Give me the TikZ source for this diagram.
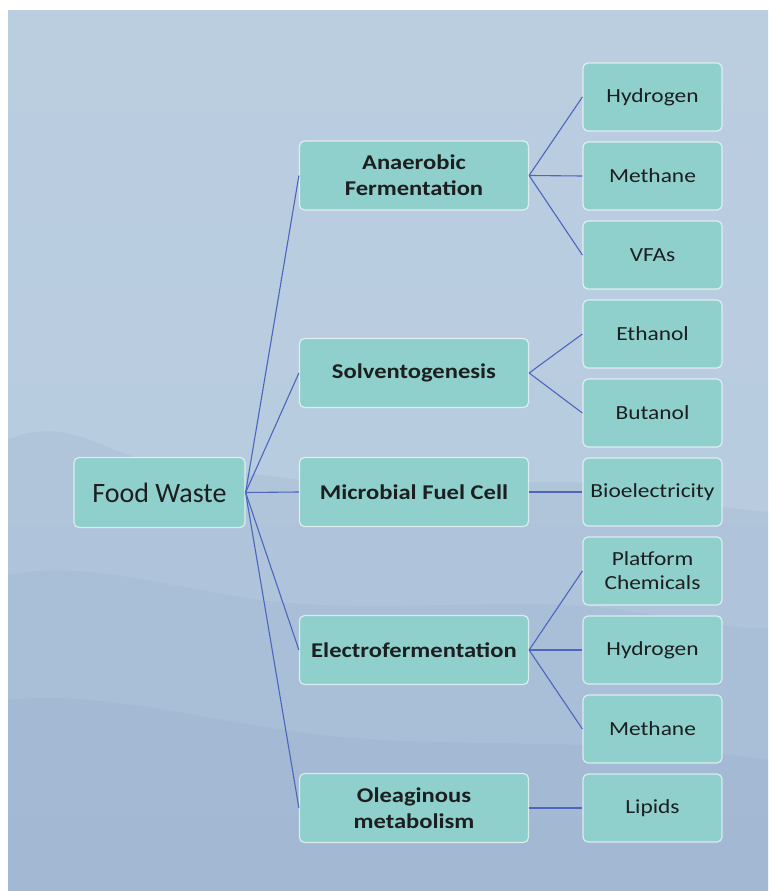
\documentclass[tikz,border=0pt]{standalone}
\usepackage{fontspec}
\setmainfont{Carlito}
\newfontfamily\widefont[FakeStretch=1.17]{Carlito}
\definecolor{boxfill}{RGB}{143,208,204}
\definecolor{linkblue}{RGB}{76,102,190}
\definecolor{textdark}{RGB}{28,30,32}
\definecolor{skyA}{RGB}{138,162,197}
\definecolor{skyB}{RGB}{158,181,210}
\definecolor{skyC}{RGB}{178,199,221}
\definecolor{skyD}{RGB}{196,213,228}
\definecolor{skyE}{RGB}{179,204,227}
\definecolor{hill}{RGB}{136,160,196}
\pgfdeclareverticalshading{sky}{768bp}{color(0bp)=(skyA); color(190bp)=(skyB); color(390bp)=(skyC); color(540bp)=(skyD); color(880bp)=(skyE)}
\tikzset{
  boxbase/.style={rounded corners=5pt, fill=boxfill, draw=white, draw opacity=0.65,
    line width=1.2pt, text=textdark, align=center, inner sep=0pt},
  rootbox/.style={boxbase, minimum width=171pt, minimum height=70pt,
    font=\fontsize{28}{32}\selectfont},
  procbox/.style={boxbase, minimum width=229pt, minimum height=69pt,
    font=\widefont\bfseries\fontsize{21}{26}\selectfont},
  prodbox/.style={boxbase, minimum width=139pt, minimum height=68pt,
    font=\widefont\fontsize{20}{24}\selectfont},
  link/.style={draw=linkblue, line width=1.1pt},
  haze/.style={fill=hill, draw=none}
}
\begin{document}
\begin{tikzpicture}[x=1pt,y=-1pt]
\useasboundingbox (0,0) rectangle (768,891);
\fill[white] (0,0) rectangle (768,891);
% misty sky and mountains
\shade[shading=sky] (8,11) rectangle (768,891);
\fill[haze, fill opacity=0.16] (8,440) .. controls (40,425) and (70,430) .. (110,448)
  .. controls (160,470) and (220,468) .. (300,480)
  .. controls (420,495) and (560,470) .. (640,490)
  .. controls (700,505) and (740,510) .. (768,512) -- (768,891) -- (8,891) -- cycle;
\fill[haze, fill opacity=0.13] (8,575) .. controls (80,560) and (160,585) .. (260,600)
  .. controls (380,615) and (520,595) .. (620,610)
  .. controls (690,620) and (740,630) .. (768,628) -- (768,891) -- (8,891) -- cycle;
\fill[haze, fill opacity=0.15] (8,700) .. controls (100,690) and (200,720) .. (320,735)
  .. controls (460,750) and (600,735) .. (768,760) -- (768,891) -- (8,891) -- cycle;

% root
\node[rootbox] (fw) at (159.5,492.5) {Food Waste};

% processes
\node[procbox] (af) at (414,175.5) {Anaerobic\\Fermentation};
\node[procbox] (sv) at (414,373) {Solventogenesis};
\node[procbox] (mf) at (414,492) {Microbial Fuel Cell};
\node[procbox] (ef) at (414,650) {Electrofermentation};
\node[procbox] (ol) at (414,808) {Oleaginous\\metabolism};

% products
\node[prodbox] (p1) at (652.5,97) {Hydrogen};
\node[prodbox] (p2) at (652.5,176) {Methane};
\node[prodbox] (p3) at (652.5,255) {VFAs};
\node[prodbox] (p4) at (652.5,334) {Ethanol};
\node[prodbox] (p5) at (652.5,413) {Butanol};
\node[prodbox] (p6) at (652.5,492) {Bioelectricity};
\node[prodbox] (p7) at (652.5,571) {Platform\\Chemicals};
\node[prodbox] (p8) at (652.5,650) {Hydrogen};
\node[prodbox] (p9) at (652.5,729) {Methane};
\node[prodbox] (p10) at (652.5,808) {Lipids};

% connectors
\foreach \t in {af,sv,mf,ef,ol} \draw[link] (fw.east) -- (\t.west);
\foreach \t in {p1,p2,p3} \draw[link] (af.east) -- (\t.west);
\foreach \t in {p4,p5} \draw[link] (sv.east) -- (\t.west);
\draw[link] (mf.east) -- (p6.west);
\foreach \t in {p7,p8,p9} \draw[link] (ef.east) -- (\t.west);
\draw[link] (ol.east) -- (p10.west);
\end{tikzpicture}
\end{document}
